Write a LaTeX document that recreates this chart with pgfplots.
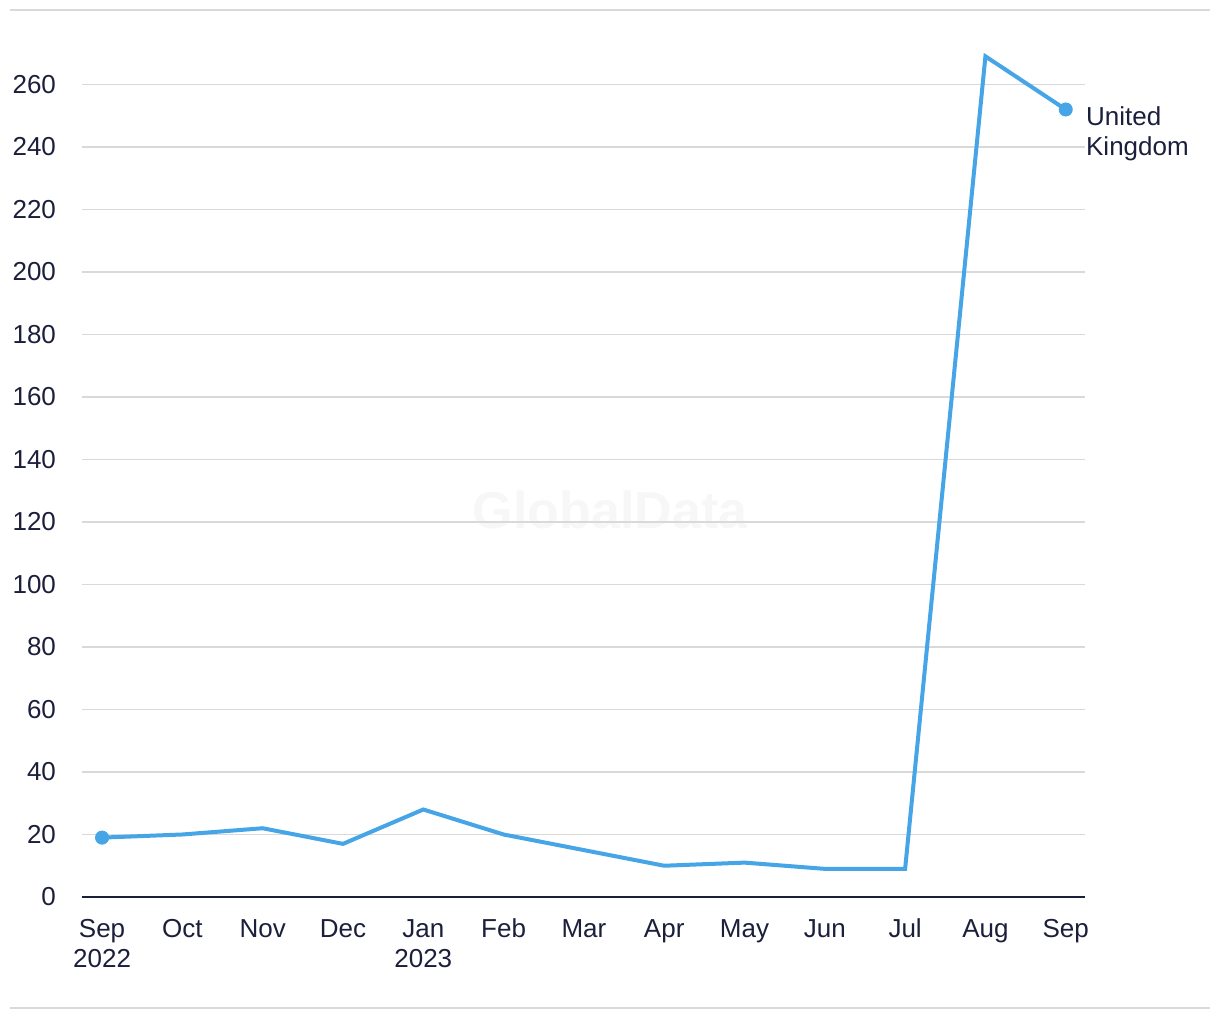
\documentclass[border=0pt]{standalone}
\usepackage{fontspec}
\setmainfont{Liberation Sans}
\usepackage{pgfplots}
\pgfplotsset{compat=1.18}
\definecolor{navy}{HTML}{1B1F3B}
\definecolor{ukblue}{HTML}{45A5E6}
\definecolor{gridgray}{HTML}{D9D9D9}
\begin{document}
\begin{tikzpicture}
\path[use as bounding box] (0pt,0pt) rectangle (610pt,510pt);
\draw[gridgray, line width=1pt] (5pt,505pt) -- (605pt,505pt);
\draw[gridgray, line width=1pt] (5pt,6pt) -- (605pt,6pt);
\node[text=black!3, font=\bfseries\fontsize{26}{30}\selectfont] at (305pt,255pt) {GlobalData};
\begin{axis}[
  at={(41pt,61.5pt)}, anchor=south west,
  scale only axis, width=501.5pt, height=425pt,
  xmin=-0.25, xmax=12.24, ymin=0, ymax=272,
  clip=false,
  axis x line*=bottom,
  axis y line*=left,
  x axis line style={draw=none},
  y axis line style={draw=none},
  ytick={0,20,...,260},
  xtick={0,...,12},
  xticklabels={{\strut Sep\\2022},\strut Oct,\strut Nov,\strut Dec,{\strut Jan\\2023},\strut Feb,\strut Mar,\strut Apr,\strut May,\strut Jun,\strut Jul,\strut Aug,\strut Sep},
  xticklabel style={align=center, font=\fontsize{13}{15}\selectfont, text=navy, anchor=north, yshift=-6pt},
  yticklabel style={font=\fontsize{13}{15}\selectfont, text=navy, xshift=-9.5pt},
  major tick length=0pt,
  ymajorgrids,
  grid style={gridgray, line width=0.8pt},
  /pgf/number format/assume math mode=true,
]
\draw[navy, line width=1pt] (axis cs:-0.25,0) -- (axis cs:12.24,0);
\addplot[ukblue, line width=2pt, mark=none] coordinates {
(0,19) (1,20) (2,22) (3,17) (4,28) (5,20) (6,15) (7,10) (8,11) (9,9) (10,9) (11,269) (12,252)
};
\addplot[ukblue, only marks, mark=*, mark size=3.3pt, mark options={draw=ukblue, fill=ukblue}] coordinates {(0,19) (12,252)};
\node[anchor=north west, align=left, text=navy, font=\fontsize{13}{15}\selectfont, inner sep=0pt, xshift=10pt, yshift=1.5pt] at (axis cs:12,252) {United\\Kingdom};
\end{axis}
\end{tikzpicture}
\end{document}
